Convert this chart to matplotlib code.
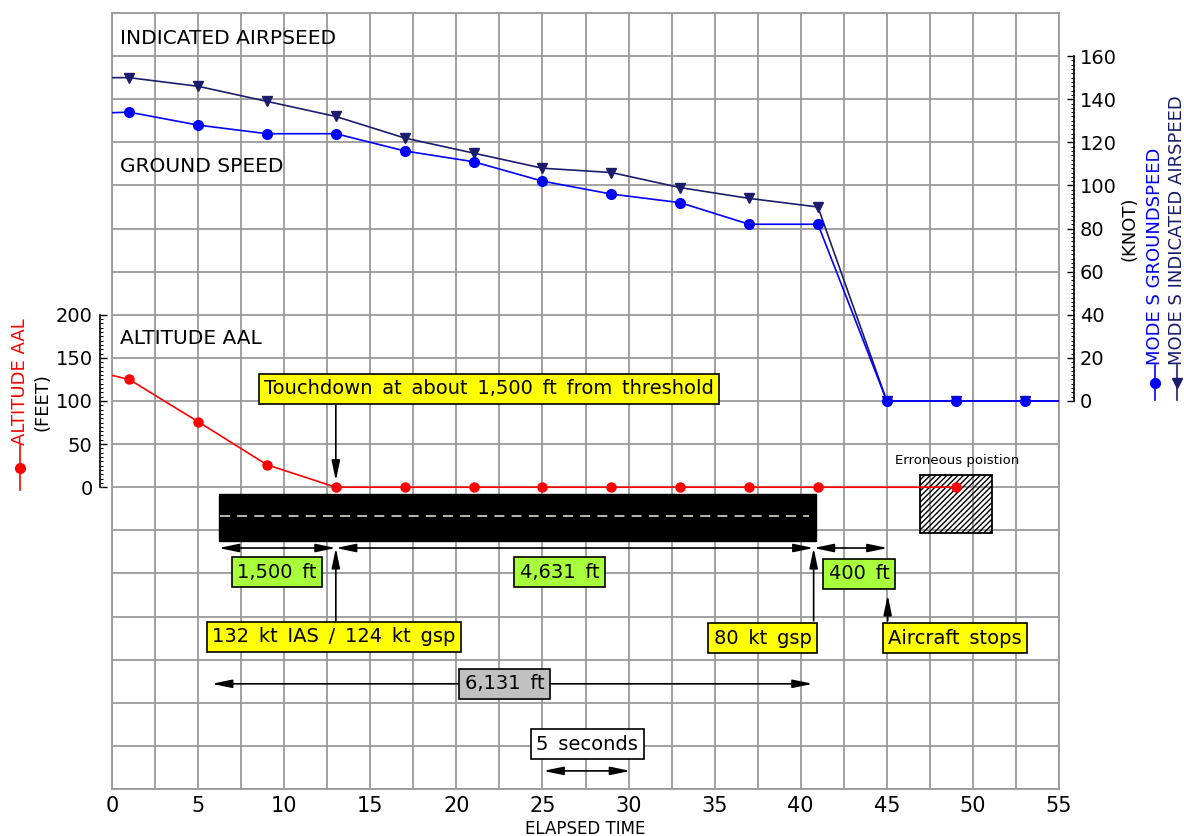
import matplotlib
matplotlib.use("Agg")
import numpy as np
import matplotlib.pyplot as plt
from matplotlib.lines import Line2D
from matplotlib.patches import Rectangle
from matplotlib.ticker import MultipleLocator, FixedLocator

# Mode S samples, elapsed time in s (first sample sits just before the plot edge)
time_s = [-3, 1, 5, 9, 13, 17, 21, 25, 29, 33, 37, 41, 45, 49, 53, 57]
ias_kt = [150, 150, 146, 139, 132, 122, 115, 108, 106, 99, 94, 90, 0, 0, 0, 0]
gsp_kt = [133, 134, 128, 124, 124, 116, 111, 102, 96, 92, 82, 82, 0, 0, 0, 0]

alt_time_s = [-3, 1, 5, 9, 13, 17, 21, 25, 29, 33, 37, 41, 49]
alt_ft = [144, 125, 76, 26, 0, 0, 0, 0, 0, 0, 0, 0, 0]

speed_ticks = list(range(0, 161, 20))
alt_ticks = list(range(0, 201, 50))
time_ticks = list(range(0, 56, 5))

GRID = "#9a9a9a"
NAVY = "#1c1c6c"
BLUE = "#0000ff"
RED = "#ff0000"
YELLOW = "#ffff00"
GREEN = "#a8ff3c"

plt.rcParams["font.family"] = ["DejaVu Sans"]

fig = plt.figure(figsize=(11.84, 8.36), dpi=100)
# grid is 22 x 18 square cells; y of the base axes is counted in rows
ax = fig.add_axes([112 / 1184, 1 - 789 / 836, 947 / 1184, 776 / 836])
ax.set_xlim(0, 55)
ax.set_ylim(0, 18)
ax.set_xticks(time_ticks)
ax.xaxis.set_minor_locator(MultipleLocator(2.5))
ax.set_yticks(range(19))
ax.grid(which="both", color=GRID, lw=1.3)
ax.set_axisbelow(True)
ax.tick_params(axis="both", which="both", length=0)
ax.tick_params(axis="y", labelleft=False)
ax.tick_params(axis="x", labelsize=15, pad=5)
for s in ax.spines.values():
    s.set_color(GRID)
    s.set_linewidth(1.3)
ax.set_xlabel("ELAPSED TIME", fontsize=12, va="center")
ax.xaxis.set_label_coords(0.5, -(829 - 789) / 776)

# speed axis on the right: row 9 = 0 kt, 20 kt per row
ax_s = ax.twinx()
ax_s.set_ylim(-180, 180)
for side in ["left", "top", "bottom"]:
    ax_s.spines[side].set_visible(False)
ax_s.spines["right"].set_position(("outward", 11))
ax_s.spines["right"].set_bounds(0, 160)
ax_s.spines["right"].set_linewidth(1.2)
ax_s.yaxis.set_major_locator(FixedLocator(speed_ticks))
ax_s.yaxis.set_minor_locator(FixedLocator(np.arange(0, 161, 2)))
ax_s.tick_params(axis="y", which="major", direction="in", length=5, width=1, labelsize=14, pad=4)
ax_s.tick_params(axis="y", which="minor", direction="in", length=2.5, width=0.8)

# altitude axis on the left: row 7 = 0 ft, 50 ft per row
ax_a = ax.twinx()
ax_a.set_ylim(-350, 550)
ax_a.yaxis.tick_left()
for side in ["right", "top", "bottom"]:
    ax_a.spines[side].set_visible(False)
ax_a.spines["left"].set_visible(True)
ax_a.spines["left"].set_position(("outward", 9))
ax_a.spines["left"].set_bounds(0, 200)
ax_a.spines["left"].set_linewidth(1.2)
ax_a.yaxis.set_major_locator(FixedLocator(alt_ticks))
ax_a.yaxis.set_minor_locator(FixedLocator(np.arange(0, 201, 5)))
ax_a.tick_params(axis="y", which="major", direction="in", length=5, width=1, labelsize=14, pad=5)
ax_a.tick_params(axis="y", which="minor", direction="in", length=2.5, width=0.8)

ax_s.plot(time_s, ias_kt, color=NAVY, lw=1.2, marker="v", ms=7, zorder=3)
ax_s.plot(time_s, gsp_kt, color=BLUE, lw=1.2, marker="o", ms=7, zorder=3)
ax_a.plot(alt_time_s, alt_ft, color=RED, lw=1.2, marker="o", ms=6.5, zorder=4)

# runway
ax.add_patch(Rectangle((6.2, 5.75), 40.9 - 6.2, 1.1, fc="black", ec="black", zorder=2))
ax.plot([6.3, 40.5], [6.33, 6.33], color="#c8c8b4", lw=1.3, dashes=(5.5, 4), zorder=2)
# erroneous position box
ax.add_patch(Rectangle((46.95, 5.94), 4.13, 1.35, fill=False, hatch="//////", ec="black", lw=1.3, zorder=2))
ax.text(49.1, 7.63, "Erroneous poistion", ha="center", va="center", fontsize=9.5)

ax.text(0.45, 17.42, "INDICATED AIRPSEED", ha="left", va="center", fontsize=14.5)
ax.text(0.45, 14.45, "GROUND SPEED", ha="left", va="center", fontsize=14.5)
ax.text(0.45, 10.46, "ALTITUDE AAL", ha="left", va="center", fontsize=14.5)


def box(x, y, s, fc):
    # the drawing font has wide word gaps, so use en spaces
    ax.text(x, y, s.replace(" ", "\u2002"), ha="center", va="center", fontsize=14, zorder=6,
            bbox=dict(boxstyle="square,pad=0.28", fc=fc, ec="black", lw=1.2))


def arrow(x0, y0, x1, y1, style="-|>"):
    ax.annotate("", xy=(x1, y1), xytext=(x0, y0), zorder=5,
                arrowprops=dict(arrowstyle=f"{style},head_length=1.2,head_width=0.25",
                                color="black", lw=1.2, shrinkA=0, shrinkB=0, mutation_scale=10))


box(21.9, 9.28, "Touchdown at about 1,500 ft from threshold", YELLOW)
arrow(13, 8.9, 13, 7.15)

dim_y = 5.59
arrow(6.2, dim_y, 13, dim_y, "<|-|>")
arrow(13, dim_y, 40.75, dim_y, "<|-|>")
arrow(40.75, dim_y, 45.05, dim_y, "<|-|>")
box(9.58, 5.03, "1,500 ft", GREEN)
box(26.0, 5.03, "4,631 ft", GREEN)
box(43.4, 4.99, "400 ft", GREEN)

box(12.9, 3.53, "132 kt IAS / 124 kt gsp", YELLOW)
arrow(13, 3.9, 13, dim_y)
box(37.8, 3.50, "80 kt gsp", YELLOW)
arrow(40.75, 3.9, 40.75, dim_y)
box(48.96, 3.50, "Aircraft stops", YELLOW)
arrow(45.05, 3.9, 45.05, 4.5)

arrow(22.0, 2.44, 5.8, 2.44)
arrow(23.5, 2.44, 40.7, 2.44)
box(22.8, 2.44, "6,131 ft", "#c0c0c0")

box(27.6, 1.04, "5 seconds", "white")
arrow(25.05, 0.42, 30.1, 0.42, "<|-|>")


# side labels with legend glyphs (figure pixel coordinates)
def fx(px):
    return px / 1184


def fy(py):
    return 1 - py / 836


def glyph(px, py_top, py_bot, color, marker):
    fig.add_artist(Line2D([fx(px), fx(px), fx(px)], [fy(py_top), fy((py_top + py_bot) / 2), fy(py_bot)],
                          transform=fig.transFigure, color=color, lw=1.2,
                          marker=marker, markevery=[1], ms=7))


fig.text(fx(20), fy(445), "ALTITUDE AAL", color=RED, rotation=90, ha="center", va="bottom", fontsize=13)
glyph(20, 445, 490, RED, "o")
fig.text(fx(43), fy(402), "(FEET)", rotation=90, ha="center", va="center", fontsize=13)

fig.text(fx(1129), fy(229), "(KNOT)", rotation=90, ha="center", va="center", fontsize=13)
fig.text(fx(1155), fy(365), "MODE S GROUNDSPEED", color=BLUE, rotation=90, ha="center", va="bottom", fontsize=13)
glyph(1155, 365, 400, BLUE, "o")
fig.text(fx(1177), fy(365), "MODE S INDICATED AIRSPEED", color=NAVY, rotation=90, ha="center", va="bottom", fontsize=13)
glyph(1177, 365, 400, NAVY, "v")

fig.savefig("out.png", dpi=100)
